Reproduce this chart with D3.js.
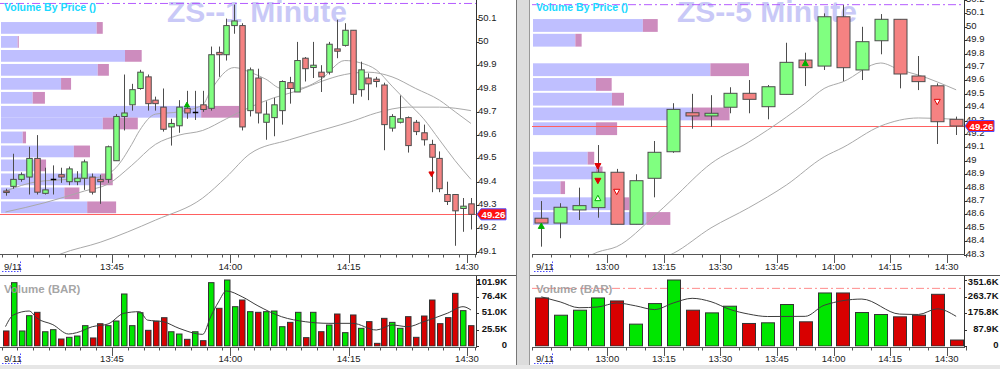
<!DOCTYPE html>
<html lang="en">
<head>
<meta charset="UTF-8">
<title>ZS 1 / 5 Minute</title>
<script src="https://d3js.org/d3.v7.min.js"></script>
<style>
    body { margin: 0; background: #fff; }
    svg { display: block; font-family: "Liberation Sans", Arial, sans-serif; }
</style>
</head>
<body>
<svg id="chart" width="1000" height="369"></svg>
<script>
// ---------- ZS 1 minute (bars start 13:31) ----------
const openL  = [49.36,49.38,49.41,49.42,49.50,49.35,49.41,49.43,49.40,49.40,49.415,49.42,49.41,49.41,49.49,49.68,49.73,49.80,49.85,49.75,49.72,49.635,49.64,49.715,49.70,49.73,49.715,49.955,49.945,50.07,50.07,49.705,49.845,49.655,49.675,49.705,49.825,49.785,49.93,49.89,49.87,49.87,49.97,49.985,50.05,49.795,49.845,49.84,49.815,49.63,49.655,49.675,49.655,49.61,49.56,49.50,49.345,49.345,49.285,49.305];
const highL  = [49.37,49.52,49.44,49.55,49.60,49.46,49.47,49.46,49.465,49.445,49.495,49.435,49.43,49.555,49.69,49.86,49.82,49.88,49.86,49.765,49.80,49.67,49.75,49.79,49.79,49.79,49.98,49.98,50.10,50.16,50.08,49.89,49.885,49.745,49.76,49.835,49.85,50.00,49.935,50.00,49.90,50.00,50.095,50.08,50.05,49.915,49.865,49.85,49.825,49.69,49.77,49.68,49.665,49.645,49.58,49.53,49.40,49.345,49.33,49.33];
const lowL   = [49.34,49.37,49.40,49.345,49.345,49.345,49.345,49.395,49.385,49.385,49.365,49.345,49.305,49.395,49.49,49.62,49.705,49.795,49.705,49.705,49.615,49.555,49.61,49.67,49.665,49.70,49.705,49.85,49.92,50.035,49.62,49.68,49.65,49.58,49.595,49.645,49.735,49.785,49.83,49.845,49.785,49.86,49.93,49.98,49.735,49.765,49.75,49.805,49.535,49.615,49.65,49.525,49.60,49.555,49.355,49.355,49.30,49.125,49.185,49.195];
const closeL = [49.355,49.41,49.43,49.50,49.355,49.365,49.41,49.42,49.455,49.415,49.485,49.355,49.40,49.55,49.68,49.695,49.795,49.87,49.735,49.735,49.625,49.65,49.72,49.695,49.70,49.71,49.945,49.945,50.07,50.09,49.635,49.88,49.695,49.69,49.73,49.83,49.80,49.92,49.885,49.90,49.85,49.99,49.96,50.05,49.775,49.88,49.82,49.83,49.645,49.68,49.67,49.555,49.615,49.58,49.505,49.37,49.315,49.275,49.295,49.26];
const volL   = [23.2,97.8,23.2,46.8,52.0,22.0,25.2,10.8,13.4,15.4,31.4,12.4,34.4,31.4,38.6,80.3,31.4,51.4,24.2,38.1,43.7,22.0,18.5,10.3,22.0,8.2,97.8,58.2,101.9,60.7,71.0,53.0,52.0,
                53.0,54.0,29.8,36.5,52.0,12.9,52.0,22.1,32.4,49.4,20.6,47.9,27.3,37.6,4.1,42.7,36.5,27.3,45.3,13.4,46.3,71.0,34.5,43.8,81.3,54.6,31.4];

// moving averages (bar index, price)
const maFastIdxL = [0,4,8,12,14,16,17,19,22,25,26,29,31,33,35,37,40,43,45,47,49,51,53,55,57,59];
const maFastL    = [49.36,49.40,49.41,49.42,49.46,49.56,49.62,49.69,49.70,49.73,49.79,49.89,49.87,49.84,49.80,49.80,49.84,49.92,49.91,49.88,49.81,49.74,49.67,49.58,49.49,49.41];
const maMidIdxL  = [0,5,10,13,16,19,22,25,28,31,34,37,40,43,46,49,52,55,57,59];
const maMidL     = [49.27,49.31,49.36,49.39,49.47,49.56,49.60,49.62,49.67,49.72,49.76,49.79,49.83,49.86,49.87,49.85,49.80,49.75,49.70,49.65];
const maSlowIdxL = [5,7,12,19,25,28,31,36,41,44,47,51,55,59];
const maSlowL    = [49.06,49.09,49.14,49.235,49.33,49.42,49.52,49.58,49.63,49.66,49.695,49.72,49.72,49.705];
const volMaIdxL  = [0,1,3,4,6,8,9,11,13,15,17,18,20,22,25,26,27,28,30,32,35,38,41,44,47,49,51,53,56,58,59];
const volMaL     = [30,47.9,54,42.8,33,18.5,20.5,29.8,34,50.5,53,40,37.5,27.3,18,45,68,85,76,62,45.2,37.5,35,35,24.7,32.4,29.8,37.5,50.5,60.7,55.6];

// volume by price, 1 minute
const vbpLevelL = [50.06,50.00,49.94,49.88,49.82,49.76,49.70,49.65,49.59,49.53,49.47,49.41,49.35,49.29];
const vbpUpL    = [172,30,223,174,108,57,360,183,39,131,63,180,114,155];
const vbpDnL    = [11,2,30,20,18,22,68,63,6,29,18,21,27,52];

const sigIdxL   = [23,54];
const sigPriceL = [49.73,49.433];
const sigTypeL  = ['up','down'];

// ---------- ZS 5 minute (bars start 12:40) ----------
const openR  = [48.572,48.536,48.634,48.651,48.915,48.527,48.87,49.068,49.359,49.335,49.40,49.504,49.404,49.496,49.752,49.707,50.075,49.678,49.896,50.056,49.633,49.56,49.31];
const highR  = [48.70,48.684,48.80,49.118,48.94,48.90,49.148,49.43,49.50,49.49,49.549,49.603,49.566,49.881,49.807,50.10,50.162,50.00,50.095,50.056,49.782,49.578,49.33];
const lowR   = [48.36,48.423,48.559,48.576,48.527,48.527,48.728,49.06,49.24,49.255,49.355,49.355,49.31,49.496,49.558,49.678,49.596,49.603,49.795,49.541,49.528,49.126,49.193];
const closeR = [48.536,48.654,48.666,48.915,48.527,48.852,49.064,49.384,49.335,49.355,49.504,49.459,49.553,49.735,49.695,50.075,49.695,49.889,50.056,49.648,49.591,49.292,49.26];
const volR   = [256,164,190.7,256,240,116.5,226,351.6,190.7,176.5,212,120,123.6,221,128.9,282.5,282.5,178.3,167.7,155.4,164,275.4,31.8];

const maFastIdxR = [2,3,4,6,7,9,11,12,14,15,16,18,19,20,22];
const maFastR    = [48.25,48.32,48.36,48.59,48.72,48.98,49.14,49.23,49.43,49.54,49.59,49.73,49.68,49.64,49.53];
const maSlowIdxR = [6,7,9,11,13,15,16,18,20,22];
const maSlowR    = [48.25,48.31,48.50,48.65,48.82,49.03,49.10,49.26,49.32,49.31];
const volMaIdxR  = [0,1,2,3,4,5,6,7,8,9,10,11,12,14,15,17,19,20,21,22];
const volMaR     = [262,235,204,208,229,214,194,229,254,236,195,170,157,158,217,250,170,168,198,158];

const vbpLevelR = [50.01,49.90,49.79,49.68,49.57,49.46,49.35,49.24,49.13,49.02,48.91,48.80,48.68,48.57];
const vbpUpR    = [384,148,0,620,220,276,553,220,0,191,220,96,308,396];
const vbpDnR    = [52,22,0,135,55,42,134,74,0,23,23,16,28,84];

const sigIdxR   = [0,3,3,3,4,14,21];
const sigPriceR = [48.514,48.962,48.852,48.721,48.77,49.728,49.441];
const sigTypeR  = ['up','down','down','upHollow','downHollow','up','downHollow'];

const lastPrice = 49.26;
const dayHigh = 50.165;
const volLevelR = 307;

const svg = d3.select('#chart');
const fmtTime = t => Math.floor(t / 60) + ':' + String(t % 60).padStart(2, '0');

function drawPanel(p) {
    const g = svg.append('g');
    const x = d3.scaleLinear().domain(p.xDom).range(p.xRng);
    const y = d3.scaleLinear().domain(p.yDom).range(p.yRng);
    const yv = d3.scaleLinear().domain([0, p.volMax]).range([346, 280]);
    const cx = i => x(p.start + p.step * (i + 0.5));
    const n = p.open.length;

    const defs = svg.append('defs');
    defs.append('clipPath').attr('id', 'pc' + p.id).append('rect')
        .attr('x', p.left).attr('y', 0).attr('width', p.right - p.left).attr('height', 254);
    defs.append('clipPath').attr('id', 'vc' + p.id).append('rect')
        .attr('x', p.left).attr('y', 276).attr('width', p.right - p.left).attr('height', 70.5);

    const pg = g.append('g').attr('clip-path', `url(#pc${p.id})`);

    // watermark
    pg.append('text').attr('x', p.wmX).attr('y', 22)
        .attr('font-size', 30).attr('font-weight', 'bold').attr('fill', '#c9c9f7')
        .text(p.title);

    // volume by price
    const vbpMax = d3.max(p.vbpUp, (u, k) => u + p.vbpDn[k]);
    const vx = d3.scaleLinear().domain([0, vbpMax]).range([0, (p.right - p.left) / 2]);
    p.vbpLevel.forEach((lv, k) => {
        const y0 = y(lv + p.vbpStep / 2) + 1;
        const h = y(lv - p.vbpStep / 2) - 1 - y0;
        pg.append('rect').attr('x', p.left + 1).attr('y', y0)
            .attr('width', vx(p.vbpUp[k])).attr('height', h).attr('fill', '#bfbfff');
        pg.append('rect').attr('x', p.left + 1 + vx(p.vbpUp[k])).attr('y', y0)
            .attr('width', vx(p.vbpDn[k])).attr('height', h).attr('fill', '#cd8cbe');
    });

    // day high dash-dot and last price line
    pg.append('line').attr('x1', p.left).attr('x2', p.right)
        .attr('y1', y(dayHigh)).attr('y2', y(dayHigh))
        .attr('stroke', '#b45cff').attr('stroke-dasharray', '8,3,2,3');
    pg.append('line').attr('x1', p.left).attr('x2', p.right)
        .attr('y1', Math.round(y(lastPrice)) + 0.5).attr('y2', Math.round(y(lastPrice)) + 0.5)
        .attr('stroke', '#ff6060');

    pg.append('text').attr('x', p.left + 4).attr('y', 10.5)
        .attr('font-size', 10.5).attr('font-weight', 'bold').attr('fill', '#1ad8ff')
        .text('Volume By Price ()');

    // moving averages
    const line = d3.line().x(d => cx(d[0])).y(d => y(d[1])).curve(d3.curveMonotoneX);
    p.mas.forEach(m => {
        pg.append('path').attr('d', line(m.idx.map((v, k) => [v, m.val[k]])))
            .attr('fill', 'none').attr('stroke', '#a9a9a9').attr('stroke-width', 1);
    });

    // candles
    for (let i = 0; i < n; i++) {
        const xc = Math.round(cx(i)) + 0.5;
        const up = p.close[i] >= p.open[i];
        pg.append('line').attr('x1', xc).attr('x2', xc)
            .attr('y1', y(p.high[i])).attr('y2', y(p.low[i])).attr('stroke', '#4d4d4d');
        const top = y(Math.max(p.open[i], p.close[i]));
        const bot = y(Math.min(p.open[i], p.close[i]));
        if (Math.abs(p.open[i] - p.close[i]) < 0.003) {
            pg.append('line').attr('x1', xc - p.bodyW / 2).attr('x2', xc + p.bodyW / 2)
                .attr('y1', Math.round(top) + 0.5).attr('y2', Math.round(top) + 0.5)
                .attr('stroke', '#000').attr('stroke-width', 1.5);
        } else {
            pg.append('rect').attr('x', xc - p.bodyW / 2).attr('y', top)
                .attr('width', p.bodyW).attr('height', Math.max(1.5, bot - top))
                .attr('fill', up ? '#80ff80' : '#f58282').attr('stroke', '#4d4d4d');
        }
    }

    // signal markers
    p.sigIdx.forEach((si, k) => {
        const t = p.sigType[k];
        const xc = cx(si), yc = y(p.sigPrice[k]);
        const s = p.sigSize;
        const pts = t.startsWith('up')
            ? [[xc, yc - s], [xc - s, yc + s * 0.8], [xc + s, yc + s * 0.8]]
            : [[xc, yc + s], [xc - s, yc - s * 0.8], [xc + s, yc - s * 0.8]];
        const col = t.startsWith('up') ? '#00b000' : '#e00000';
        pg.append('polygon').attr('points', pts.map(q => q.join(',')).join(' '))
            .attr('fill', t.endsWith('Hollow') ? '#fff' : col).attr('stroke', col).attr('stroke-width', 1);
    });

    // price axis
    g.append('line').attr('x1', p.right + 0.5).attr('x2', p.right + 0.5).attr('y1', 0).attr('y2', 254)
        .attr('stroke', '#333');
    p.yTicks.forEach(t => {
        g.append('line').attr('x1', p.right).attr('x2', p.right + 3)
            .attr('y1', Math.round(y(t)) + 0.5).attr('y2', Math.round(y(t)) + 0.5).attr('stroke', '#333');
        g.append('text').attr('x', p.right + 2).attr('y', y(t) - 1.5)
            .attr('dominant-baseline', 'central').attr('font-size', 9.5).attr('fill', '#222')
            .text(String(+t.toFixed(1)));
    });

    // last price flag
    const fy = y(lastPrice);
    g.append('path')
        .attr('d', `M${p.right + 1},${fy} L${p.right + 5},${fy - 5.5} H${p.right + 30} V${fy + 5.5} H${p.right + 5} Z`)
        .attr('fill', '#ff1010').attr('stroke', '#5050ff');
    g.append('text').attr('x', p.right + 17.5).attr('y', fy + 0.5).attr('text-anchor', 'middle')
        .attr('dominant-baseline', 'central').attr('font-size', 9.5).attr('font-weight', 'bold')
        .attr('fill', '#fff').text(lastPrice.toFixed(2));

    // time axes (under price and under volume)
    const drawTimeAxis = (ay, ly) => {
        g.append('line').attr('x1', p.left).attr('x2', p.right + 1).attr('y1', ay + 0.5).attr('y2', ay + 0.5)
            .attr('stroke', '#555');
        p.minorTicks.forEach(t => {
            const tx = Math.round(x(t)) + 0.5;
            const major = p.majorTicks.includes(t);
            g.append('line').attr('x1', tx).attr('x2', tx).attr('y1', ay).attr('y2', ay + (major ? 9 : 3.5))
                .attr('stroke', '#555');
        });
        p.majorTicks.forEach(t => {
            g.append('text').attr('x', x(t)).attr('y', ly).attr('text-anchor', 'middle')
                .attr('font-size', 9.5).attr('fill', '#222').text(fmtTime(t));
        });
        g.append('text').attr('x', p.left + 4).attr('y', ly).attr('font-size', 9.5).attr('fill', '#222').text('9/11');
        g.append('path').attr('d', `M${p.left + 2},${ly + 1.5} H${p.left + 20.5} V${ly - 9}`)
            .attr('fill', 'none').attr('stroke', '#4a4aff').attr('stroke-dasharray', '1.5,1.5');
    };
    drawTimeAxis(254, 270);
    drawTimeAxis(347, 362);

    // panel separator
    g.append('line').attr('x1', p.panelLeft).attr('x2', p.panelRight).attr('y1', 275.5).attr('y2', 275.5)
        .attr('stroke', '#555');

    // volume panel
    const vg = g.append('g').attr('clip-path', `url(#vc${p.id})`);
    if (p.volLevel) {
        vg.append('line').attr('x1', p.left).attr('x2', p.right).attr('y1', yv(p.volLevel)).attr('y2', yv(p.volLevel))
            .attr('stroke', '#ff8c8c').attr('stroke-dasharray', '8,3,2,3');
    }
    p.vol.forEach((v, i) => {
        const up = p.close[i] >= p.open[i];
        vg.append('rect').attr('x', Math.round(cx(i) - p.volW / 2) + 0.5).attr('y', yv(v))
            .attr('width', p.volW).attr('height', 346 - yv(v))
            .attr('fill', up ? '#00e600' : '#d80000').attr('stroke', '#333');
    });
    const vline = d3.line().x(d => cx(d[0])).y(d => yv(d[1])).curve(d3.curveMonotoneX);
    vg.append('path').attr('d', vline(p.volMaIdx.map((v, k) => [v, p.volMa[k]])))
        .attr('fill', 'none').attr('stroke', '#3c3c3c');
    vg.append('text').attr('x', p.left + 4).attr('y', 293).attr('font-size', 11.5).attr('font-weight', 'bold')
        .attr('fill', '#9a9a9a').attr('fill-opacity', 0.9).text('Volume (BAR)');

    g.append('line').attr('x1', p.right + 0.5).attr('x2', p.right + 0.5).attr('y1', 276).attr('y2', 347)
        .attr('stroke', '#333');
    d3.range(5).forEach(k => {
        const v = p.volMax * k / 4;
        g.append('line').attr('x1', p.right).attr('x2', p.right + 3)
            .attr('y1', Math.round(yv(v)) + 0.5).attr('y2', Math.round(yv(v)) + 0.5).attr('stroke', '#333');
        g.append('text').attr('x', p.volLabelX).attr('y', Math.max(yv(v) - 1.5, 281))
            .attr('text-anchor', 'end').attr('dominant-baseline', 'central')
            .attr('font-size', 9.5).attr('font-weight', 'bold').attr('fill', '#111')
            .text(k === 0 ? '0' : v.toFixed(1) + 'K');
    });
}

drawPanel({
    id: 'L', title: 'ZS--1 Minute', wmX: 167,
    left: 0, right: 476, panelLeft: 0, panelRight: 516, volLabelX: 507,
    xDom: [13 * 60 + 45, 14 * 60 + 30], xRng: [112, 467],
    yDom: [49.1, 50.1], yRng: [251.6, 18.6],
    start: 13 * 60 + 31, step: 1, bodyW: 5.5, volW: 5.5, sigSize: 2.6,
    open: openL, high: highL, low: lowL, close: closeL, vol: volL, volMax: 101.9,
    mas: [{ idx: maSlowIdxL, val: maSlowL }, { idx: maMidIdxL, val: maMidL }, { idx: maFastIdxL, val: maFastL }],
    volMaIdx: volMaIdxL, volMa: volMaL,
    vbpLevel: vbpLevelL, vbpUp: vbpUpL, vbpDn: vbpDnL, vbpStep: 0.059,
    sigIdx: sigIdxL, sigPrice: sigPriceL, sigType: sigTypeL,
    yTicks: d3.range(491, 502).map(v => v / 10),
    minorTicks: d3.range(13 * 60 + 31, 14 * 60 + 32, 2).concat([13 * 60 + 45, 14 * 60, 14 * 60 + 15, 14 * 60 + 30]),
    majorTicks: [13 * 60 + 45, 14 * 60, 14 * 60 + 15, 14 * 60 + 30]
});

drawPanel({
    id: 'R', title: 'ZS--5 Minute', wmX: 677,
    left: 532, right: 964, panelLeft: 530, panelRight: 1000, volLabelX: 998.5,
    xDom: [13 * 60, 14 * 60 + 30], xRng: [607.3, 946.7],
    yDom: [48.3, 50.1], yRng: [254.7, 13.4],
    start: 12 * 60 + 40, step: 5, bodyW: 13, volW: 13, sigSize: 3,
    open: openR, high: highR, low: lowR, close: closeR, vol: volR, volMax: 351.6, volLevel: volLevelR,
    mas: [{ idx: maSlowIdxR, val: maSlowR }, { idx: maFastIdxR, val: maFastR }],
    volMaIdx: volMaIdxR, volMa: volMaR,
    vbpLevel: vbpLevelR, vbpUp: vbpUpR, vbpDn: vbpDnR, vbpStep: 0.1105,
    sigIdx: sigIdxR, sigPrice: sigPriceR, sigType: sigTypeR,
    yTicks: d3.range(483, 503).map(v => v / 10),
    minorTicks: d3.range(12 * 60 + 40, 14 * 60 + 36, 5),
    majorTicks: [13 * 60, 13 * 60 + 15, 13 * 60 + 30, 13 * 60 + 45, 14 * 60, 14 * 60 + 15, 14 * 60 + 30]
});

// divider between the two charts and bottom strip
svg.append('rect').attr('x', 516).attr('y', 0).attr('width', 14).attr('height', 369).attr('fill', '#dcdcdc');
svg.append('line').attr('x1', 516.5).attr('x2', 516.5).attr('y1', 0).attr('y2', 369).attr('stroke', '#777');
svg.append('line').attr('x1', 529.5).attr('x2', 529.5).attr('y1', 0).attr('y2', 369).attr('stroke', '#999');
svg.append('rect').attr('x', 0).attr('y', 365).attr('width', 1000).attr('height', 4).attr('fill', '#e6e6e6');
</script>
</body>
</html>
